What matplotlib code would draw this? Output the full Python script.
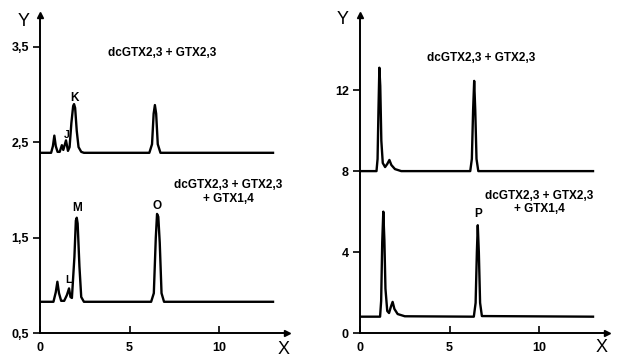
import matplotlib.pyplot as plt

plt.rcParams['font.family'] = ['Liberation Sans', 'DejaVu Sans']

# ── traces (x = time, y = signal) ──
left_top_x = [0, 0.62, 0.72, 0.80, 0.88, 0.98, 1.10, 1.22, 1.30, 1.45, 1.56, 1.65,
              1.75, 1.85, 1.90, 1.96, 2.05, 2.15, 2.30, 2.45, 6.10, 6.25, 6.34,
              6.41, 6.48, 6.57, 6.72, 13.0]
left_top_y = [2.39, 2.39, 2.46, 2.57, 2.46, 2.40, 2.40, 2.47, 2.42, 2.52, 2.41, 2.45,
              2.70, 2.88, 2.90, 2.86, 2.62, 2.45, 2.40, 2.39, 2.39, 2.48, 2.80,
              2.89, 2.80, 2.48, 2.39, 2.39]

left_bot_x = [0, 0.75, 0.88, 0.97, 1.06, 1.18, 1.35, 1.50, 1.62, 1.70, 1.78, 1.92,
              2.00, 2.05, 2.10, 2.20, 2.30, 2.45, 6.20, 6.35, 6.46, 6.53, 6.60,
              6.68, 6.78, 6.92, 13.0]
left_bot_y = [0.83, 0.83, 0.93, 1.04, 0.92, 0.84, 0.84, 0.90, 0.97, 0.88, 0.87, 1.30,
              1.68, 1.71, 1.65, 1.20, 0.88, 0.83, 0.83, 0.92, 1.50, 1.75, 1.72,
              1.45, 0.92, 0.83, 0.83]

right_top_x = [0, 0.92, 0.98, 1.03, 1.08, 1.13, 1.19, 1.27, 1.40, 1.52, 1.64, 1.75,
               1.95, 2.30, 6.15, 6.24, 6.31, 6.37, 6.43, 6.50, 6.60, 13.0]
right_top_y = [8.0, 8.0, 8.6, 11.0, 13.1, 12.2, 9.5, 8.4, 8.2, 8.35, 8.55, 8.3,
               8.1, 8.0, 8.0, 8.6, 11.0, 12.45, 11.0, 8.6, 8.0, 8.0]

right_bot_x = [0, 1.12, 1.18, 1.24, 1.30, 1.36, 1.42, 1.52, 1.62, 1.72, 1.82, 1.92,
               2.10, 2.50, 6.35, 6.45, 6.52, 6.57, 6.63, 6.70, 6.80, 13.0]
right_bot_y = [0.82, 0.82, 1.6, 4.5, 6.0, 4.6, 2.2, 1.1, 1.0, 1.3, 1.55, 1.2,
               0.95, 0.84, 0.82, 1.5, 4.0, 5.33, 4.0, 1.5, 0.85, 0.82]

x_ticks = [5, 10]
x_ticklabels = ['5', '10']
left_yticks = [0.5, 1.5, 2.5, 3.5]
left_yticklabels = ['0,5', '1,5', '2,5', '3,5']
right_yticks = [0, 4, 8, 12]
right_yticklabels = ['0', '4', '8', '12']

label_top = 'dcGTX2,3 + GTX2,3'
label_bot = 'dcGTX2,3 + GTX2,3\n+ GTX1,4'

W, H = 621, 360
fig = plt.figure(figsize=(W / 100, H / 100), dpi=100)

def px_axes(x0, x1, y_top, y_bot):
    return fig.add_axes([x0 / W, 1 - y_bot / H, (x1 - x0) / W, (y_bot - y_top) / H])

axL = px_axes(40, 287, 15, 333.3)
axR = px_axes(360, 607, 15, 333.3)

def style(ax, ylim, yticks, yticklabels):
    ax.set_xlim(0, 13.78)
    ax.set_ylim(*ylim)
    for s in ['top', 'right']:
        ax.spines[s].set_visible(False)
    for s in ['left', 'bottom']:
        ax.spines[s].set_linewidth(1.4)
    ax.set_xticks([0] + x_ticks)
    ax.set_xticklabels(['0'] + x_ticklabels)
    ax.set_yticks(yticks)
    ax.set_yticklabels(yticklabels)
    ax.tick_params(axis='x', direction='in', length=5, width=1.2, pad=6,
                   labelsize=9)
    ax.tick_params(axis='y', direction='out', length=5, width=1.2, pad=3,
                   labelsize=9)
    for t in ax.get_xticklabels() + ax.get_yticklabels():
        t.set_fontweight('bold')
    ax.plot(1, 0, '>k', ms=4, transform=ax.transAxes, clip_on=False)
    ax.plot(0, 1, '^k', ms=4, transform=ax.transAxes, clip_on=False)

style(axL, (0.5, 3.833), left_yticks, left_yticklabels)
style(axR, (0, 15.7), right_yticks, right_yticklabels)

lw = 1.7
axL.plot(left_top_x, left_top_y, color='black', lw=lw)
axL.plot(left_bot_x, left_bot_y, color='black', lw=lw)
axR.plot(right_top_x, right_top_y, color='black', lw=lw)
axR.plot(right_bot_x, right_bot_y, color='black', lw=lw)

tk = dict(fontsize=8.5, fontweight='bold', ha='center', va='center')
axL.text(6.8, 3.44, label_top, **tk)
axL.text(10.5, 1.98, label_bot, linespacing=1.2, **tk)
axR.text(6.74, 13.6, label_top, **tk)
axR.text(10.0, 6.45, label_bot, linespacing=1.2, **tk)

axL.text(1.9, 2.96, 'K', **tk)
axL.text(1.49, 2.58, 'J', fontsize=7.5, fontweight='bold', ha='center', va='center')
axL.text(2.05, 1.81, 'M', **tk)
axL.text(6.51, 1.83, 'O', **tk)
axL.text(1.58, 1.06, 'L', fontsize=7.5, fontweight='bold', ha='center', va='center')
axR.text(6.57, 5.9, 'P', **tk)

fig.text(24 / W, 1 - 22 / H, 'Y', fontsize=13, ha='center', va='center')
fig.text(343 / W, 1 - 20 / H, 'Y', fontsize=13, ha='center', va='center')
fig.text(284 / W, 1 - 349 / H, 'X', fontsize=13, ha='center', va='center')
fig.text(602 / W, 1 - 347 / H, 'X', fontsize=13, ha='center', va='center')

fig.savefig('out.png', dpi=100)
